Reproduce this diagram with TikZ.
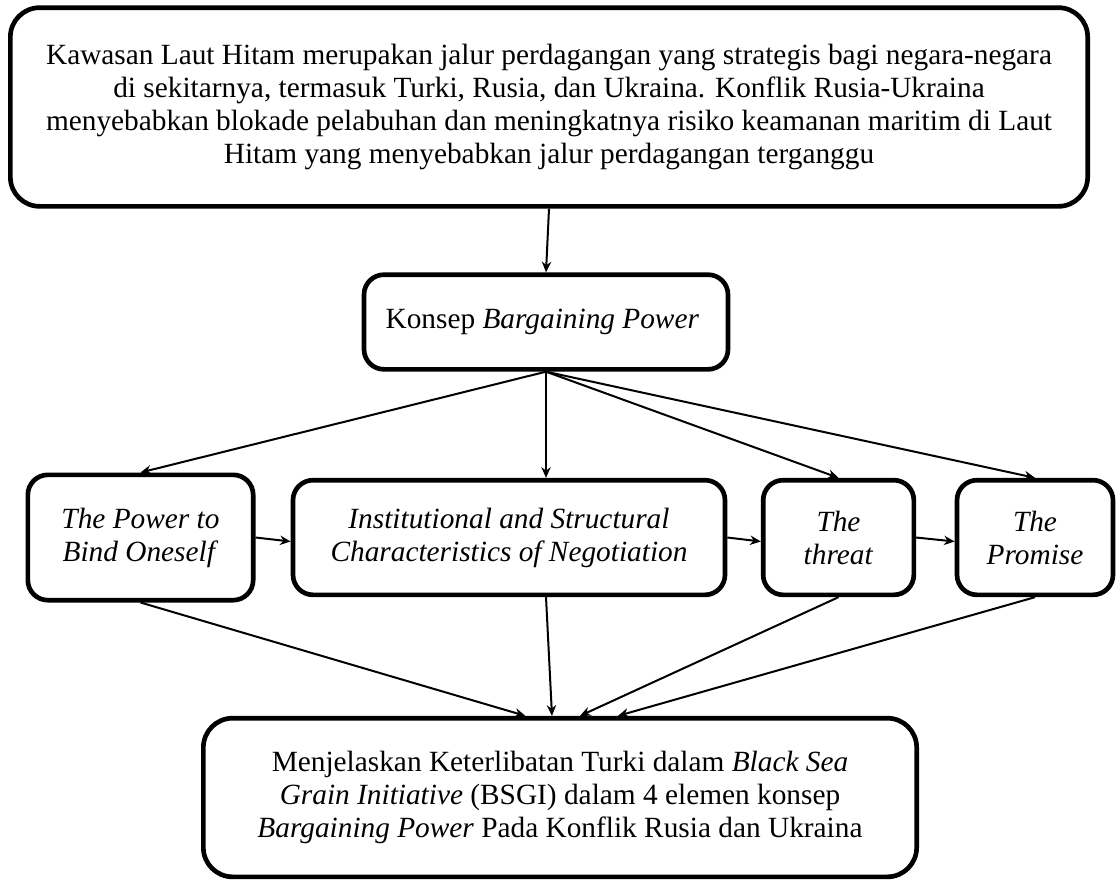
\documentclass[tikz,border=0pt]{standalone}
\usepackage{fontspec}
\setmainfont{Liberation Serif}
\usetikzlibrary{arrows.meta}

\tikzset{
  kotak/.style={draw, line width=3.5pt, rounded corners=15pt, align=center,
    inner sep=0pt, font=\fontsize{22}{24.8}\selectfont},
  panah/.style={line width=1.5pt, -{Stealth[length=8pt,width=7pt]}}
}

\begin{document}
\begin{tikzpicture}[x=0.75pt, y=-0.75pt]
\useasboundingbox (0,0) rectangle (1116,879);

% draw the top box
\node (latar) at (549,107) [kotak, rounded corners=22pt, minimum width=808pt, minimum height=149pt] {
  Kawasan Laut Hitam merupakan jalur perdagangan yang strategis bagi negara-negara \\
  di sekitarnya, termasuk Turki, Rusia, dan Ukraina. Konflik Rusia-Ukraina \\
  menyebabkan blokade pelabuhan dan meningkatnya risiko keamanan maritim di Laut \\
  Hitam yang menyebabkan jalur perdagangan terganggu
};

% draw the concept box
\node (konsep) at (546,322) [kotak, minimum width=273pt, minimum height=71pt] {
  Konsep \textit{Bargaining Power}
};

% draw the four elements
\node (bind) at (140.5,537.5) [kotak, minimum width=169pt, minimum height=94pt] {
  \textit{The Power to} \\
  \textit{Bind Oneself}
};
\node (institusi) at (509,537.5) [kotak, minimum width=324pt, minimum height=86pt] {
  \textit{Institutional and Structural} \\
  \textit{Characteristics of Negotiation}
};
\node (threat) at (838.5,537.5) [kotak, minimum width=113pt, minimum height=86pt] {
  \textit{The} \\
  \textit{threat}
};
\node (promise) at (1035,537.5) [kotak, minimum width=117pt, minimum height=86pt] {
  \textit{The} \\
  \textit{Promise}
};

% draw the bottom box
\node (hasil) at (560,797.5) [kotak, rounded corners=22pt, minimum width=535pt, minimum height=119pt] {
  Menjelaskan Keterlibatan Turki dalam \textit{Black Sea} \\
  \textit{Grain Initiative} (BSGI) dalam 4 elemen konsep \\
  \textit{Bargaining Power} Pada Konflik Rusia dan Ukraina
};

% draw arrows from the top to the concept
\draw[panah] (latar.south) -- (konsep.north);

% draw arrows from the concept to the elements
\draw[panah] (konsep.south) -- (bind.north);
\draw[panah] (konsep.south) -- (konsep.south |- institusi.north);
\draw[panah] (konsep.south) -- (threat.north);
\draw[panah] (konsep.south) -- (promise.north);

% draw arrows between the elements
\draw[panah] (bind.east) -- ([yshift=-3pt]institusi.west);
\draw[panah] (institusi.east) -- ([yshift=-3pt]threat.west);
\draw[panah] (threat.east) -- ([yshift=-3pt]promise.west);

% draw arrows from the elements to the bottom box
\draw[panah] (bind.south) -- ([xshift=-26pt]hasil.north);
\draw[panah] (konsep.south |- institusi.south) -- ([xshift=-6pt]hasil.north);
\draw[panah] (threat.south) -- ([xshift=15pt]hasil.north);
\draw[panah] (promise.south) -- ([xshift=43.5pt]hasil.north);
\end{tikzpicture}
\end{document}
